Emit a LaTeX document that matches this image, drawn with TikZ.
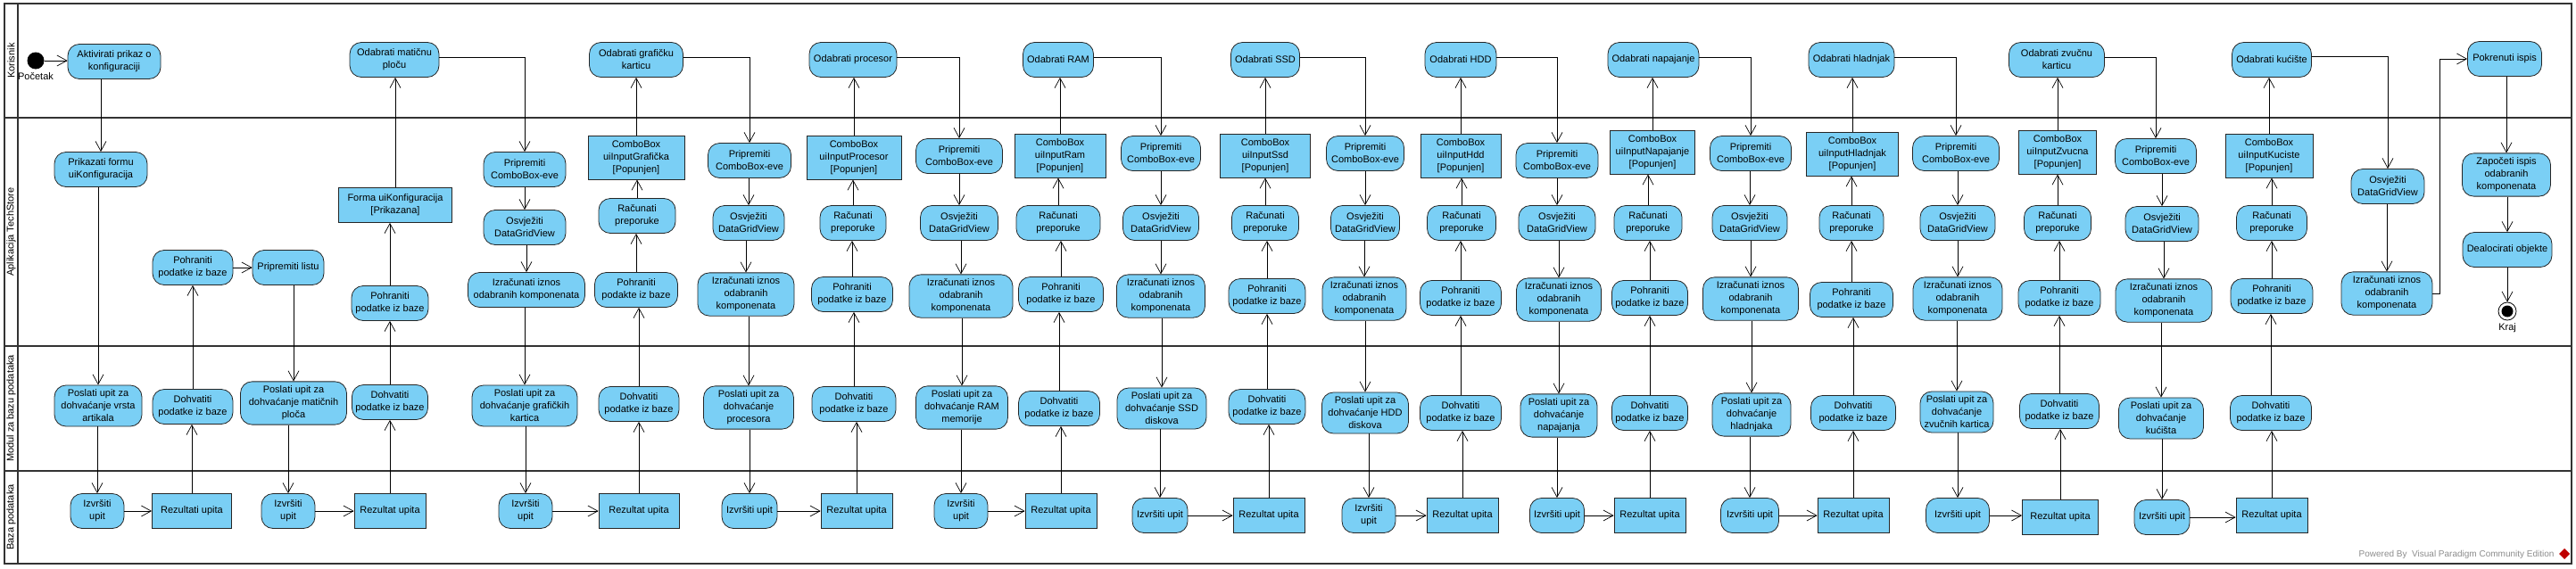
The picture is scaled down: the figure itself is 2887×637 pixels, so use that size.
\documentclass[tikz,border=0pt]{standalone}
\usepackage{fontspec}
\setmainfont{Liberation Sans}
\usetikzlibrary{arrows.meta}
\definecolor{vpblue}{RGB}{122,207,245}
\tikzset{
  act/.style={draw=black!85, fill=vpblue, rounded corners=13pt, align=center, minimum height=39pt, inner xsep=4pt, inner ysep=5pt, line width=0.8pt},
  obj/.style={draw=black!85, fill=vpblue, align=center, minimum height=39pt, inner xsep=4pt, inner ysep=5pt, line width=0.8pt},
  wd/.style={minimum width=#1},
  flow/.style={-{Straight Barb[length=11pt,width=12pt]}, line width=0.7pt},
  lane/.style={line width=2.2pt, black!80},
}
\begin{document}
\begin{tikzpicture}[x=1pt, y=-1pt, font=\fontsize{11}{14}\selectfont]
  \useasboundingbox (0,0) rectangle (2887,637);
  % swimlanes
  \draw[line width=1.6pt, black!80] (5,4) rectangle (2882,632);
  \draw[lane] (20,4) -- (20,632);
  \foreach \y in {132,388,528} \draw[lane] (5,\y) -- (2882,\y);
  \node[rotate=90] (laneKor) at (12.5,68) {Korisnik};
  \node[rotate=90] (laneApp) at (12.5,260) {Aplikacija TechStore};
  \node[rotate=90] (laneMod) at (12.5,458) {Modul za bazu podataka};
  \node[rotate=90] (laneBaza) at (12.5,580) {Baza podataka};

  % start, vrste artikala, maticne ploce
  \node[circle, fill=black, minimum size=19pt, inner sep=0pt] (start) at (40,68) {};
  \node (pocetak) at (40,86) {Početak};
  \node[act, wd=104] (akt) at (128,69) {Aktivirati prikaz o\\konfiguraciji};
  \node[act, wd=104] (prikaz) at (113,190) {Prikazati formu\\uiKonfiguracija};
  \node[act, wd=98] (upitVrsta) at (110,455) {Poslati upit za\\dohvaćanje vrsta\\artikala};
  \node[act, wd=60] (izvVrsta) at (109,573) {Izvršiti\\upit};
  \node[obj, wd=89] (rezVrsta) at (215,573) {Rezultati upita};
  \node[act, wd=90] (dohvVrsta) at (216,456) {Dohvatiti\\podatke iz baze};
  \node[act, wd=90] (pohrVrsta) at (216,300) {Pohraniti\\podatke iz baze};
  \node[act, wd=80] (lista) at (323,300) {Pripremiti listu};
  \node[act, wd=119] (upit0) at (329,452) {Poslati upit za\\dohvaćanje matičnih\\ploča};
  \node[act, wd=60] (izv0) at (323,573) {Izvršiti\\upit};
  \node[obj, wd=80] (rez0) at (437,573) {Rezultat upita};
  \node[act, wd=83] (dohv0) at (437,451) {Dohvatiti\\podatke iz baze};
  \node[act, wd=86] (pohr0) at (437,340) {Pohraniti\\podatke iz baze};
  \node[obj, wd=127] (forma) at (443,230) {Forma uiKonfiguracija\\{[Prikazana]}};
  \node[act, wd=100] (odab0) at (442,67) {Odabrati matičnu\\ploču};

  % graficka kartica
  \node[act, wd=92] (prip1) at (588,190) {Pripremiti\\ComboBox-eve};
  \node[act, wd=92] (osv1) at (588,255) {Osvježiti\\DataGridView};
  \node[act, wd=131] (izr1) at (590,325) {Izračunati iznos\\odabranih komponenata};
  \node[act, wd=118] (upit1) at (588,455) {Poslati upit za\\dohvaćanje grafičkih\\kartica};
  \node[act, wd=60] (izv1) at (589,573) {Izvršiti\\upit};
  \node[obj, wd=90] (rez1) at (716,573) {Rezultat upita};
  \node[act, wd=90] (dohv1) at (716,453) {Dohvatiti\\podatke iz baze};
  \node[act, wd=93] (pohr1) at (713,325) {Pohraniti\\podakte iz baze};
  \node[act, wd=86] (rac1) at (714,242) {Računati\\preporuke};
  \node[obj, wd=108] (cb1) at (713,177) {ComboBox\\uiInputGrafička\\{[Popunjen]}};
  \node[act, wd=105] (odab1) at (713,67) {Odabrati grafičku\\karticu};

  % procesor
  \node[act, wd=93] (prip2) at (840,180) {Pripremiti\\ComboBox-eve};
  \node[act, wd=80] (osv2) at (839,250) {Osvježiti\\DataGridView};
  \node[act, wd=108] (izr2) at (836,330) {Izračunati iznos\\odabranih\\komponenata};
  \node[act, wd=101] (upit2) at (839,457) {Poslati upit za\\dohvaćanje\\procesora};
  \node[act, wd=62] (izv2) at (840,573) {Izvršiti upit};
  \node[obj, wd=80] (rez2) at (960,573) {Rezultat upita};
  \node[act, wd=94] (dohv2) at (957,453) {Dohvatiti\\podatke iz baze};
  \node[act, wd=91] (pohr2) at (955,330) {Pohraniti\\podatke iz baze};
  \node[act, wd=74] (rac2) at (956,250) {Računati\\preporuke};
  \node[obj, wd=106] (cb2) at (957,177) {ComboBox\\uiInputProcesor\\{[Popunjen]}};
  \node[act, wd=98] (odab2) at (956,67) {Odabrati procesor};

  % RAM
  \node[act, wd=97] (prip3) at (1075,175) {Pripremiti\\ComboBox-eve};
  \node[act, wd=87] (osv3) at (1075,250) {Osvježiti\\DataGridView};
  \node[act, wd=116] (izr3) at (1077,332) {Izračunati iznos\\odabranih\\komponenata};
  \node[act, wd=103] (upit3) at (1078,457) {Poslati upit za\\dohvaćanje RAM\\memorije};
  \node[act, wd=60] (izv3) at (1077,573) {Izvršiti\\upit};
  \node[obj, wd=80] (rez3) at (1189,573) {Rezultat upita};
  \node[act, wd=91] (dohv3) at (1187,458) {Dohvatiti\\podatke iz baze};
  \node[act, wd=95] (pohr3) at (1189,330) {Pohraniti\\podatke iz baze};
  \node[act, wd=94] (rac3) at (1186,250) {Računati\\preporuke};
  \node[obj, wd=102] (cb3) at (1188,175) {ComboBox\\uiInputRam\\{[Popunjen]}};
  \node[act, wd=79] (odab3) at (1186,67) {Odabrati RAM};

  % SSD
  \node[act, wd=89] (prip4) at (1301,172) {Pripremiti\\ComboBox-eve};
  \node[act, wd=85] (osv4) at (1301,250) {Osvježiti\\DataGridView};
  \node[act, wd=99] (izr4) at (1301,332) {Izračunati iznos\\odabranih\\komponenata};
  \node[act, wd=100] (upit4) at (1302,458) {Poslati upit za\\dohvaćanje SSD\\diskova};
  \node[act, wd=62] (izv4) at (1300,578) {Izvršiti upit};
  \node[obj, wd=80] (rez4) at (1422,578) {Rezultat upita};
  \node[act, wd=86] (dohv4) at (1420,456) {Dohvatiti\\podatke iz baze};
  \node[act, wd=86] (pohr4) at (1420,332) {Pohraniti\\podatke iz baze};
  \node[act, wd=75] (rac4) at (1418,250) {Računati\\preporuke};
  \node[obj, wd=101] (cb4) at (1418,175) {ComboBox\\uiInputSsd\\{[Popunjen]}};
  \node[act, wd=77] (odab4) at (1418,67) {Odabrati SSD};

  % HDD
  \node[act, wd=87] (prip5) at (1530,172) {Pripremiti\\ComboBox-eve};
  \node[act, wd=77] (osv5) at (1530,250) {Osvježiti\\DataGridView};
  \node[act, wd=94] (izr5) at (1529,335) {Izračunati iznos\\odabranih\\komponenata};
  \node[act, wd=97] (upit5) at (1530,463) {Poslati upit za\\dohvaćanje HDD\\diskova};
  \node[act, wd=60] (izv5) at (1534,578) {Izvršiti\\upit};
  \node[obj, wd=80] (rez5) at (1639,578) {Rezultat upita};
  \node[act, wd=91] (dohv5) at (1637,463) {Dohvatiti\\podatke iz baze};
  \node[act, wd=91] (pohr5) at (1637,334) {Pohraniti\\podatke iz baze};
  \node[act, wd=77] (rac5) at (1638,250) {Računati\\preporuke};
  \node[obj, wd=90] (cb5) at (1637,175) {ComboBox\\uiInputHdd\\{[Popunjen]}};
  \node[act, wd=80] (odab5) at (1637,67) {Odabrati HDD};

  % napajanje
  \node[act, wd=92] (prip6) at (1745,180) {Pripremiti\\ComboBox-eve};
  \node[act, wd=86] (osv6) at (1745,250) {Osvježiti\\DataGridView};
  \node[act, wd=95] (izr6) at (1747,336) {Izračunati iznos\\odabranih\\komponenata};
  \node[act, wd=86] (upit6) at (1747,466) {Poslati upit za\\dohvaćanje\\napajanja};
  \node[act, wd=61] (izv6) at (1745,578) {Izvršiti upit};
  \node[obj, wd=80] (rez6) at (1849,578) {Rezultat upita};
  \node[act, wd=83] (dohv6) at (1849,463) {Dohvatiti\\podatke iz baze};
  \node[act, wd=83] (pohr6) at (1849,334) {Pohraniti\\podatke iz baze};
  \node[act, wd=76] (rac6) at (1847,250) {Računati\\preporuke};
  \node[obj, wd=95] (cb6) at (1852,171) {ComboBox\\uiInputNapajanje\\{[Popunjen]}};
  \node[act, wd=102] (odab6) at (1853,67) {Odabrati napajanje};

  % hladnjak
  \node[act, wd=91] (prip7) at (1962,172) {Pripremiti\\ComboBox-eve};
  \node[act, wd=84] (osv7) at (1961,250) {Osvježiti\\DataGridView};
  \node[act, wd=107] (izr7) at (1962,335) {Izračunati iznos\\odabranih\\komponenata};
  \node[act, wd=88] (upit7) at (1963,465) {Poslati upit za\\dohvaćanje\\hladnjaka};
  \node[act, wd=65] (izv7) at (1961,578) {Izvršiti upit};
  \node[obj, wd=80] (rez7) at (2077,578) {Rezultat upita};
  \node[act, wd=95] (dohv7) at (2077,463) {Dohvatiti\\podatke iz baze};
  \node[act, wd=93] (pohr7) at (2075,336) {Pohraniti\\podatke iz baze};
  \node[act, wd=72] (rac7) at (2075,250) {Računati\\preporuke};
  \node[obj, wd=103] (cb7) at (2076,173) {ComboBox\\uiInputHladnjak\\{[Popunjen]}};
  \node[act, wd=96] (odab7) at (2075,67) {Odabrati hladnjak};

  % zvucna kartica
  \node[act, wd=97] (prip8) at (2192,172) {Pripremiti\\ComboBox-eve};
  \node[act, wd=84] (osv8) at (2194,250) {Osvježiti\\DataGridView};
  \node[act, wd=100] (izr8) at (2194,335) {Izračunati iznos\\odabranih\\komponenata};
  \node[act, wd=82] (upit8) at (2193,462) {Poslati upit za\\dohvaćanje\\zvučnih kartica};
  \node[act, wd=71] (izv8) at (2194,578) {Izvršiti upit};
  \node[obj, wd=85] (rez8) at (2309,580) {Rezultat upita};
  \node[act, wd=89] (dohv8) at (2308,461) {Dohvatiti\\podatke iz baze};
  \node[act, wd=92] (pohr8) at (2308,334) {Pohraniti\\podatke iz baze};
  \node[act, wd=75] (rac8) at (2306,250) {Računati\\preporuke};
  \node[obj, wd=87] (cb8) at (2306,171) {ComboBox\\uiInputZvucna\\{[Popunjen]}};
  \node[act, wd=107] (odab8) at (2305,67) {Odabrati zvučnu\\karticu};

  % kuciste
  \node[act, wd=91] (prip9) at (2416,175) {Pripremiti\\ComboBox-eve};
  \node[act, wd=82] (osv9) at (2423,251) {Osvježiti\\DataGridView};
  \node[act, wd=108] (izr9) at (2425,337) {Izračunati iznos\\odabranih\\komponenata};
  \node[act, wd=95] (upit9) at (2422,469) {Poslati upit za\\dohvaćanje\\kućišta};
  \node[act, wd=62] (izv9) at (2423,580) {Izvršiti upit};
  \node[obj, wd=80] (rez9) at (2546,578) {Rezultat upita};
  \node[act, wd=91] (dohv9) at (2545,463) {Dohvatiti\\podatke iz baze};
  \node[act, wd=92] (pohr9) at (2546,332) {Pohraniti\\podatke iz baze};
  \node[act, wd=79] (rac9) at (2546,250) {Računati\\preporuke};
  \node[obj, wd=98] (cb9) at (2543,175) {ComboBox\\uiInputKuciste\\{[Popunjen]}};
  \node[act, wd=89] (odab9) at (2546,67) {Odabrati kućište};

  % ispis i kraj
  \node[act, wd=82] (osv10) at (2676,209) {Osvježiti\\DataGridView};
  \node[act, wd=102] (izr10) at (2675,329) {Izračunati iznos\\odabranih\\komponenata};
  \node[act, wd=83] (ispis) at (2807,66) {Pokrenuti ispis};
  \node[act, wd=99] (zapoceti) at (2809,196) {Započeti ispis\\odabranih\\komponenata};
  \node[act, wd=100] (dealoc) at (2810,280) {Dealocirati objekte};
  \node[circle, draw, line width=0.8pt, fill=white, minimum size=20pt, inner sep=0pt] (kraj) at (2810,349) {};
  \fill (kraj) circle (6.5pt);
  \node (krajLbl) at (2810,368) {Kraj};

  % watermark
  \node[anchor=east, text=black!45, font=\fontsize{10}{12}\selectfont] (vp) at (2866,622) {Powered By\ \ Visual Paradigm Community Edition};
  \fill[red!75!black] (2874,615) -- (2880,621) -- (2874,627) -- (2868,621) -- cycle;

  % tokovi
  \draw[flow] (start.east) -- (start.east -| akt.west);
  \foreach \a/\b in {akt/prikaz, prikaz/upitVrsta, upitVrsta/izvVrsta, lista/upit0, upit0/izv0}
    \draw[flow] (\a.south -| \b) -- (\b.north);
  \foreach \a/\b in {izvVrsta/rezVrsta, pohrVrsta/lista, izv0/rez0}
    \draw[flow] (\a.east) -- (\a.east -| \b.west);
  \foreach \a/\b in {rezVrsta/dohvVrsta, dohvVrsta/pohrVrsta, rez0/dohv0, dohv0/pohr0, pohr0/forma, forma/odab0}
    \draw[flow] (\a.north) -- (\a.north |- \b.south);
  \foreach \i in {1,...,9} {
    \foreach \a/\b in {prip/osv, osv/izr, izr/upit, upit/izv}
      \draw[flow] (\a\i.south -| \b\i) -- (\b\i.north);
    \draw[flow] (izv\i.east) -- (izv\i.east -| rez\i.west);
    \foreach \a/\b in {rez/dohv, dohv/pohr, pohr/rac, rac/cb, cb/odab}
      \draw[flow] (\a\i.north) -- (\a\i.north |- \b\i.south);
  }
  \foreach \i [count=\j from 1] in {0,...,8}
    \draw[flow] ([yshift=3pt]odab\i.east) -| (prip\j.north);
  \draw[flow] ([yshift=4pt]odab9.east) -| (osv10.north);
  \draw[flow] (osv10.south -| izr10) -- (izr10.north);
  \draw[flow] (izr10.east) -- ++(8,0) |- (ispis.west);
  \foreach \a/\b in {ispis/zapoceti, zapoceti/dealoc, dealoc/kraj}
    \draw[flow] (\a.south -| \b) -- (\b.north);
\end{tikzpicture}
\end{document}
